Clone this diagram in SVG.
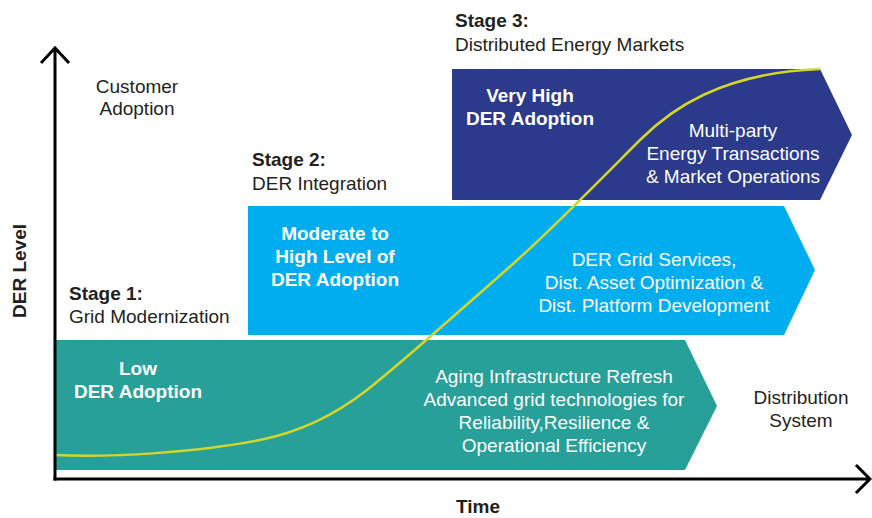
<svg xmlns="http://www.w3.org/2000/svg" width="872" height="518" viewBox="0 0 872 518">
<style>
text{font-family:"Liberation Sans",Arial,sans-serif;font-size:19px;fill:#231f20}
.b{font-weight:bold}
.w{fill:#ffffff}
.c{text-anchor:middle}
.axis{stroke:#000;stroke-width:3;fill:none;stroke-linecap:square}
</style>
<rect width="872" height="518" fill="#ffffff"/>
<g id="stage1">
<polygon points="56,340 685,340 717,406 685,470 56,470" fill="#26a098"/>
<text class="b w c" x="138" y="375">Low</text>
<text class="b w c" x="138" y="398">DER Adoption</text>
<text class="w c" x="554" y="383">Aging Infrastructure Refresh</text>
<text class="w c" x="554" y="406">Advanced grid technologies for</text>
<text class="w c" x="554" y="429">Reliability,Resilience &amp;</text>
<text class="w c" x="554" y="452">Operational Efficiency</text>
</g>
<g id="stage2">
<polygon points="248,206 784,206 815,270 784,335 248,335" fill="#00adee"/>
<text class="b w c" x="335" y="240">Moderate to</text>
<text class="b w c" x="335" y="263">High Level of</text>
<text class="b w c" x="335" y="286">DER Adoption</text>
<text class="w c" x="654" y="266">DER Grid Services,</text>
<text class="w c" x="654" y="289">Dist. Asset Optimization &amp;</text>
<text class="w c" x="654" y="312">Dist. Platform Development</text>
</g>
<g id="stage3">
<polygon points="452,69 820,69 852,135 820,200 452,200" fill="#2b3a8a"/>
<text class="b w c" x="530" y="102">Very High</text>
<text class="b w c" x="530" y="125">DER Adoption</text>
<text class="w c" x="733" y="137">Multi-party</text>
<text class="w c" x="733" y="160">Energy Transactions</text>
<text class="w c" x="733" y="183">&amp; Market Operations</text>
</g>
<g id="labels">
<text class="c" x="137" y="93">Customer</text>
<text class="c" x="137" y="115">Adoption</text>
<text class="b" x="455" y="27">Stage 3:</text>
<text x="455" y="51">Distributed Energy Markets</text>
<text class="b" x="252" y="166">Stage 2:</text>
<text x="252" y="190">DER Integration</text>
<text class="b" x="69" y="300">Stage 1:</text>
<text x="69" y="323">Grid Modernization</text>
<text class="c" x="801" y="404">Distribution</text>
<text class="c" x="801" y="427">System</text>
<text class="b c" x="478" y="513">Time</text>
<text class="b c" transform="translate(26,271) rotate(-90)">DER Level</text>
</g>
<g id="connectors">
<path d="M55,455 C110,458 200,452 260,440 C300,432 335,415 367,390 C400,364 470,302 514,263 C550,231 600,180 640,140 C670,110 720,73 820,69" fill="none" stroke="#d4d52b" stroke-width="2.5"/>
<path class="axis" d="M55,479 L55,49 M42,62 L55,48 L68,62"/>
<path class="axis" d="M55,479 L868,479 M857,466 L870,479 L857,492"/>
</g>
</svg>
